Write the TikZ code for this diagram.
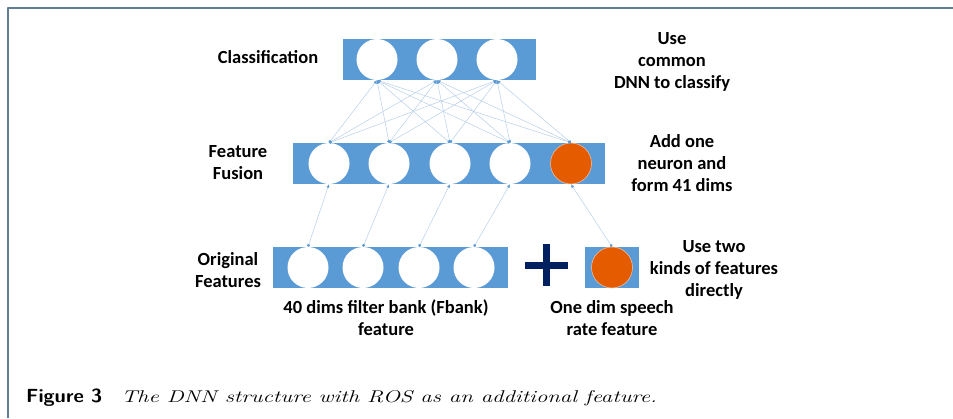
\documentclass[tikz,border=0pt]{standalone}
\usepackage{fontspec}
\newfontfamily\calibri{Carlito}
\usetikzlibrary{arrows.meta,positioning}
\definecolor{bar}{RGB}{91,155,213}
\definecolor{linkc}{RGB}{184,207,234}
\definecolor{ros}{RGB}{229,91,0}
\definecolor{navy}{RGB}{0,32,96}
\definecolor{framec}{RGB}{96,124,154}
\tikzset{
  every picture/.style={x=1pt, y=-1pt, line cap=round, line join=round},
  % Neuronen
  neuron/.style={circle, fill=white, inner sep=0pt, minimum size=41pt},
  rosneuron/.style={neuron, fill=ros, draw=ros!35, line width=0.5pt},
  % Schichten
  layer/.style={fill=bar},
  % Verbindungen: Punkt am Start, kleine Spitze am Ziel
  conn/.style={draw=linkc, line width=0.5pt,
    {Circle[length=3pt, color=bar]}-{Latex[length=3.5pt, width=3pt, color=bar]}},
  % Beschriftung
  lbl/.style={font=\calibri\bfseries\fontsize{18.5}{22}\selectfont, align=center, inner sep=0pt},
}
\begin{document}
\begin{tikzpicture}
  \useasboundingbox (0,0) rectangle (953,418);
  % Rahmen
  \draw[framec, line width=2pt, line cap=butt] (7.5,418) -- (7.5,7.5) -- (953,7.5);

  % Schichten
  \fill[layer] (343,39) rectangle (536,80);
  \fill[layer] (293,143) rectangle (605,184);
  \fill[layer] (273,247) rectangle (508,288);
  \fill[layer] (585,247) rectangle (639,288);

  % Klassifikation
  \foreach \i/\x in {1/377,2/437,3/497}
    \node[neuron] (c\i) at (\x,59.5) {};
  % Fusion
  \foreach \i/\x in {1/329,2/389,3/450,4/510}
    \node[neuron] (f\i) at (\x,163.5) {};
  \node[rosneuron] (f5) at (571,163.5) {};
  % Eingangsmerkmale
  \foreach \i/\x in {1/308,2/363,3/419,4/474}
    \node[neuron] (o\i) at (\x,267.5) {};
  \node[rosneuron] (o5) at (612,267.5) {};

  % Pluszeichen
  \fill[navy] (525,262) rectangle (568,269);
  \fill[navy] (543,244) rectangle (550,286);

  % voll verbunden
  \foreach \i in {1,...,5}
    \foreach \j in {1,2,3}
      \draw[conn] (f\i.north) -- (c\j.south);
  % eins zu eins
  \foreach \i in {1,...,5}
    \draw[conn] (o\i.north) -- (f\i.south);

  % Texte
  \node[lbl] (tcls) at (268,57) {Classification};
  \node[lbl] (tfus) at (238,163) {Feature\\Fusion};
  \node[lbl] (torg) at (228,270) {Original\\Features};
  \node[lbl] (tfb) at (386,318) {40 dims filter bank (Fbank)\\feature};
  \node[lbl] (tsr) at (612,318) {One dim speech\\rate feature};
  \node[lbl] (tuse) at (672,62) {Use\\common\\DNN to classify};
  \node[lbl] (tadd) at (682,163.5) {Add one\\neuron and\\form 41 dims};
  \node[lbl] (ttwo) at (714,270) {Use two\\kinds of features\\directly};

  % Bildunterschrift
  \node[anchor=base west, inner sep=0pt, font=\fontsize{17}{20}\selectfont] (cap) at (26,402)
    {\scalebox{1.06}[1]{\fontsize{19}{22}\selectfont\sffamily\bfseries Figure 3}\hspace{19pt}%
     \scalebox{1.34}[1]{\itshape The DNN structure with ROS as an additional feature.}};
\end{tikzpicture}
\end{document}
